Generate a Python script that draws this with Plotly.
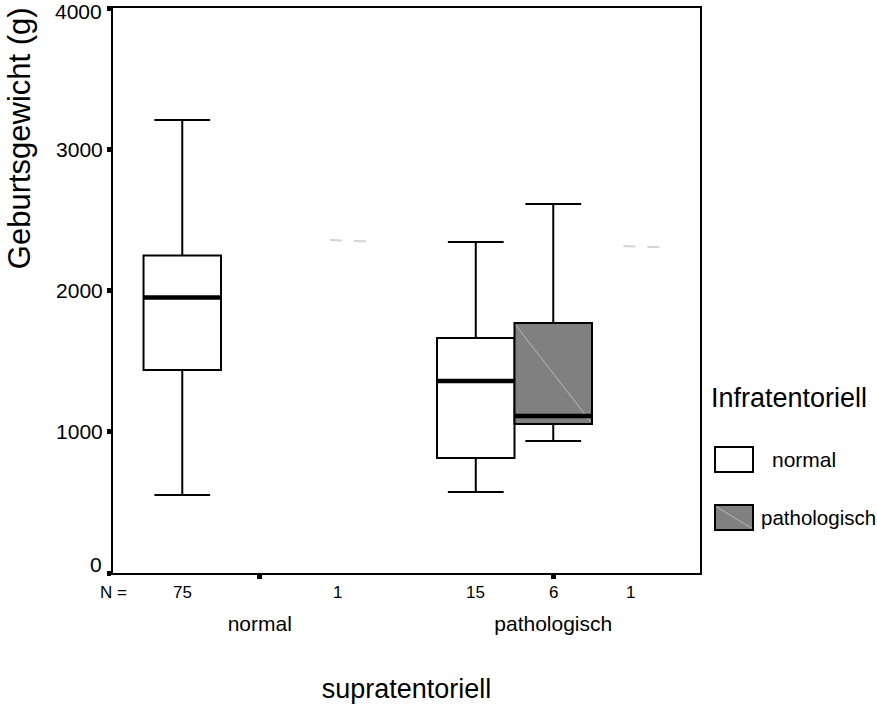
import plotly.graph_objects as go

# ---- data ----
supra_groups = ["normal", "pathologisch"]          # x-axis groups (supratentoriell)
infra_levels = ["normal", "pathologisch"]          # legend (Infratentoriell)

box_group = [0, 1, 1]          # index into supra_groups
box_slot = [-1, -1, 0]         # slot inside group
box_infra = [0, 0, 1]          # index into infra_levels
box_lower = [552, 573, 935]
box_q1 = [1437, 814, 1055]
box_median = [1950, 1359, 1112]
box_q3 = [2248, 1664, 1770]
box_upper = [3207, 2343, 2612]

single_group = [0, 1]
single_slot = [1, 1]
single_value = [2357, 2315]

n_group = [0, 0, 1, 1, 1]
n_slot = [-1, 1, -1, 0, 1]
n_count = [75, 1, 15, 6, 1]

y_ticks = [0, 1000, 2000, 3000, 4000]

# ---- style ----
FONT = "Liberation Sans, Arial, sans-serif"
SLOT = 0.264
fills = ["white", "#808080"]


def pos(g, s):
    return g + 0.5 + s * SLOT


fig = go.Figure()

for i in range(len(box_group)):
    x = pos(box_group[i], box_slot[i])
    fig.add_trace(go.Box(
        x=[x], q1=[box_q1[i]], median=[box_median[i]], q3=[box_q3[i]],
        lowerfence=[box_lower[i]], upperfence=[box_upper[i]],
        width=SLOT, whiskerwidth=0.72,
        fillcolor=fills[box_infra[i]],
        line=dict(color="black", width=2),
        boxpoints=False, showlegend=False, hoverinfo="skip",
    ))
    if box_infra[i] == 1:
        fig.add_trace(go.Scatter(
            x=[x - SLOT / 2 + 0.004, x + SLOT / 2 - 0.004],
            y=[box_q3[i] - 15, box_q1[i] + 15],
            mode="lines", line=dict(color="#b8b8b8", width=1),
            showlegend=False, hoverinfo="skip"))

# thick medians
for i in range(len(box_group)):
    x = pos(box_group[i], box_slot[i])
    fig.add_trace(go.Scatter(
        x=[x - SLOT / 2, x + SLOT / 2], y=[box_median[i], box_median[i]],
        mode="lines", line=dict(color="black", width=4.5),
        showlegend=False, hoverinfo="skip"))

# faint single-observation markers
for g, s, v in zip(single_group, single_slot, single_value):
    x = pos(g, s)
    fig.add_trace(go.Scatter(
        x=[x - 0.025, x + 0.11], y=[v, v - 10],
        mode="lines", line=dict(color="#d4d4d4", width=2, dash="12px,12px"),
        showlegend=False, hoverinfo="skip"))

annotations = []
# N row
annotations.append(dict(x=0, y=-0.034, xref="x", yref="paper", text="N =",
                        showarrow=False, xanchor="center", yanchor="middle",
                        font=dict(size=17, color="black", family=FONT)))
for g, s, n in zip(n_group, n_slot, n_count):
    annotations.append(dict(x=pos(g, s), y=-0.034, xref="x", yref="paper",
                            text=str(n), showarrow=False, xanchor="center",
                            yanchor="middle",
                            font=dict(size=17, color="black", family=FONT)))

# edge y tick labels, nudged inward as in the reference
edge_shift = {y_ticks[0]: 9, y_ticks[-1]: -3}
for v, sh in edge_shift.items():
    annotations.append(dict(x=0, y=v, xref="paper", yref="y",
                            text=str(v), showarrow=False, xanchor="right",
                            yanchor="middle", xshift=-9, yshift=sh,
                            font=dict(size=21, color="black", family=FONT)))

# y title
annotations.append(dict(x=-0.158, y=0.77, xref="paper", yref="paper",
                        text="Geburtsgewicht (g)", textangle=-90, showarrow=False,
                        xanchor="center", yanchor="middle",
                        font=dict(size=31, color="black", family=FONT)))

# legend (manual)
annotations.append(dict(x=1.0153, y=0.3097, xref="paper", yref="paper",
                        text="Infratentoriell", showarrow=False, xanchor="left",
                        yanchor="middle", font=dict(size=27, color="black", family=FONT)))
leg_y = [(0.2230, 0.1788), (0.1204, 0.0761)]
leg_text_x = [1.1193, 1.1005]
leg_text_size = [21, 20.5]
shapes = []
for k, lvl in enumerate(infra_levels):
    y0, y1 = leg_y[k]
    shapes.append(dict(type="rect", xref="paper", yref="paper",
                       x0=1.0256, x1=1.0903, y0=y1, y1=y0,
                       line=dict(color="black", width=2), fillcolor=fills[k]))
    if k == 1:
        shapes.append(dict(type="line", xref="paper", yref="paper",
                           x0=1.0275, x1=1.0885, y0=y0 - 0.003, y1=y1 + 0.003,
                           line=dict(color="#b8b8b8", width=1)))
    annotations.append(dict(x=leg_text_x[k], y=(y0 + y1) / 2, xref="paper", yref="paper",
                            text=lvl, showarrow=False, xanchor="left", yanchor="middle",
                            font=dict(size=leg_text_size[k], color="black", family=FONT)))

fig.update_layout(
    width=877, height=705,
    margin=dict(l=113, r=177, t=8, b=132, autoexpand=False),
    paper_bgcolor="white", plot_bgcolor="white",
    boxmode="overlay",
    font=dict(family=FONT, color="black"),
    annotations=annotations, shapes=shapes,
    showlegend=False,
)
fig.update_xaxes(
    range=[0, 2], tickvals=[0.5, 1.5], ticktext=supra_groups,
    ticks="outside", ticklen=4, tickwidth=5, tickcolor="black",
    ticklabelstandoff=27,
    tickfont=dict(size=21, color="black", family=FONT),
    showline=True, linecolor="black", linewidth=2, mirror=True,
    showgrid=False, zeroline=False,
    title=dict(text="supratentoriell", standoff=45,
               font=dict(size=27, color="black", family=FONT)),
)
fig.update_yaxes(
    range=[0, 4000], tickvals=y_ticks,
    ticktext=["" if v in edge_shift else str(v) for v in y_ticks],
    ticks="outside", ticklen=4, tickwidth=5, tickcolor="black",
    tickfont=dict(size=21, color="black", family=FONT),
    showline=True, linecolor="black", linewidth=2, mirror=True,
    showgrid=False, zeroline=False,
)

fig.write_html("out.html")
